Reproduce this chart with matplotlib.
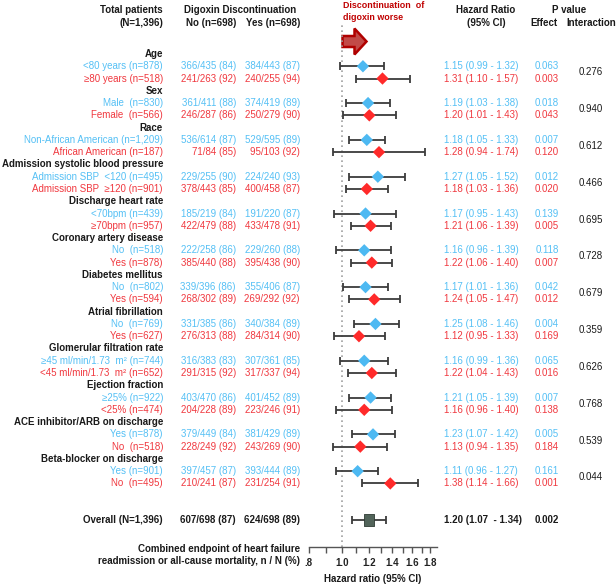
import matplotlib
matplotlib.use('Agg')
import matplotlib.pyplot as plt
from matplotlib.patches import FancyArrow
from matplotlib.path import Path
import numpy as np

plt.rcParams['font.family'] = ['Liberation Sans', 'DejaVu Sans']

# ---------------- data ----------------
groups = ["Age", "Sex", "Race", "Admission systolic blood pressure", "Discharge heart rate",
          "Coronary artery disease", "Diabetes mellitus", "Atrial fibrillation",
          "Glomerular filtration rate", "Ejection fraction",
          "ACE inhibitor/ARB on discharge", "Beta-blocker on discharge"]

sub_labels = ["<80 years (n=878)", "≥80 years (n=518)",
              "Male  (n=830)", "Female  (n=566)",
              "Non-African American (n=1,209)", "African American (n=187)",
              "Admission SBP  <120 (n=495)", "Admission SBP  ≥120 (n=901)",
              "<70bpm (n=439)", "≥70bpm (n=957)",
              "No  (n=518)", "Yes (n=878)",
              "No  (n=802)", "Yes (n=594)",
              "No  (n=769)", "Yes (n=627)",
              "≥45 ml/min/1.73  m² (n=744)", "<45 ml/min/1.73  m² (n=652)",
              "≥25% (n=922)", "<25% (n=474)",
              "Yes (n=878)", "No  (n=518)",
              "Yes (n=901)", "No  (n=495)"]

no_events = [366, 241, 361, 246, 536, 71, 229, 378, 185, 422, 222, 385,
             339, 268, 331, 276, 316, 291, 403, 204, 379, 228, 397, 210]
no_total = [435, 263, 411, 287, 614, 84, 255, 443, 219, 479, 258, 440,
            396, 302, 385, 313, 383, 315, 470, 228, 449, 249, 457, 241]
no_pct = [84, 92, 88, 86, 87, 85, 90, 85, 84, 88, 86, 88,
          86, 89, 86, 88, 83, 92, 86, 89, 84, 92, 87, 87]
yes_events = [384, 240, 374, 250, 529, 95, 224, 400, 191, 433, 229, 395,
              355, 269, 340, 284, 307, 317, 401, 223, 381, 243, 393, 231]
yes_total = [443, 255, 419, 279, 595, 103, 240, 458, 220, 478, 260, 438,
             406, 292, 384, 314, 361, 337, 452, 246, 429, 269, 444, 254]
yes_pct = [87, 94, 89, 90, 89, 92, 93, 87, 87, 91, 88, 90,
           87, 92, 89, 90, 85, 94, 89, 91, 89, 90, 89, 91]

hr = [1.15, 1.31, 1.19, 1.20, 1.18, 1.28, 1.27, 1.18, 1.17, 1.21, 1.16, 1.22,
      1.17, 1.24, 1.25, 1.12, 1.16, 1.22, 1.21, 1.16, 1.23, 1.13, 1.11, 1.38]
ci_lo = [0.99, 1.10, 1.03, 1.01, 1.05, 0.94, 1.05, 1.03, 0.95, 1.06, 0.96, 1.06,
         1.01, 1.05, 1.08, 0.95, 0.99, 1.04, 1.05, 0.96, 1.07, 0.94, 0.96, 1.14]
ci_hi = [1.32, 1.57, 1.38, 1.43, 1.33, 1.74, 1.52, 1.36, 1.43, 1.39, 1.39, 1.40,
         1.36, 1.47, 1.46, 1.33, 1.36, 1.43, 1.39, 1.40, 1.42, 1.35, 1.27, 1.66]
p_effect = ["0.063", "0.003", "0.018", "0.043", "0.007", "0.120", "0.012", "0.020",
            "0.139", "0.005", "0.118", "0.007", "0.042", "0.012", "0.004", "0.169",
            "0.065", "0.016", "0.007", "0.138", "0.005", "0.184", "0.161", "0.001"]
p_interaction = ["0.276", "0.940", "0.612", "0.466", "0.695", "0.728",
                 "0.679", "0.359", "0.626", "0.768", "0.539", "0.044"]

overall_label = "Overall (N=1,396)"
overall_no = "607/698 (87)"
overall_yes = "624/698 (89)"
overall_hr = 1.20
overall_lo = 1.07
overall_hi = 1.34
overall_p = "0.002"

x_ticks = [0.8, 1.0, 1.2, 1.4, 1.6, 1.8]
x_ticklabels = [".8", "1.0", "1.2", "1.4", "1.6", "1.8"]
x_minor = [0.9, 1.1, 1.3, 1.5, 1.7]

# ---------------- style / layout ----------------
W, H = 616, 585
BLUE_T = '#55c0f5'
RED_T = '#f0383f'
BLUE_M = '#4db9f2'
RED_M = '#ff2a2a'
DARK = '#1a1a1a'
FS = 7

y0, step = 54.0, 12.27

def row_y(r):
    return y0 + step * r

fig = plt.figure(figsize=(W / 100, H / 100), dpi=100)
fig.patch.set_facecolor('white')

tax = fig.add_axes([0, 0, 1, 1])
tax.set_xlim(0, W)
tax.set_ylim(H, 0)
tax.axis('off')
tax.patch.set_alpha(0)

# forest axes geometry (pixel)
ax_left, ax_right = 308.5, 308.5 + 150 * np.log(1.88 / 0.8)
ax_top, ax_bot = 25.0, 547.0
ax = fig.add_axes([ax_left / W, 1 - ax_bot / H, (ax_right - ax_left) / W, (ax_bot - ax_top) / H])
ax.patch.set_alpha(0)
ax.set_xscale('log')
ax.set_xlim(0.8, 1.88)
ax.set_ylim(ax_bot, ax_top)
for s in ['top', 'right', 'left']:
    ax.spines[s].set_visible(False)
ax.spines['bottom'].set_color('#555555')
ax.spines['bottom'].set_linewidth(1.0)
ax.set_yticks([])
ax.set_xticks(x_ticks)
ax.set_xticklabels(x_ticklabels, fontsize=FS, fontweight='bold', color='#222222')
ax.set_xticks(x_minor, minor=True)
ax.xaxis.set_minor_formatter(matplotlib.ticker.NullFormatter())
ax.tick_params(axis='x', which='both', direction='out', length=4, width=1, color='#555555', pad=4)
ax.axvline(1.0, color='#a0a0a0', linestyle=(0, (1, 2)), linewidth=1.2, zorder=1)

# headers
def t(x, y, s, ha='left', color=DARK, bold=False, size=FS, **kw):
    tax.text(x, y, s, ha=ha, va='center', fontsize=size, color=color,
             fontweight='bold' if bold else 'normal', **kw)

t(163, 10, "Total patients", ha='right', bold=True)
t(163, 22.7, "(N=1,396)", ha='right', bold=True)
t(240.5, 10, "Digoxin Discontinuation", ha='center', bold=True)
t(236, 22.7, "No (n=698)", ha='right', bold=True)
t(300, 22.7, "Yes (n=698)", ha='right', bold=True)
t(486, 10, "Hazard Ratio", ha='center', bold=True)
t(486, 22.7, "(95% CI)", ha='center', bold=True)
t(569, 10, "P value", ha='center', bold=True)
t(544, 22.7, "Effect", ha='center', bold=True)
t(566, 22.7, "Interaction", ha='left', bold=True)
t(343, 5, "Discontinuation  of", color='#c00000', bold=True, size=6.4)
t(343, 17.5, "digoxin worse", color='#c00000', bold=True, size=6.4)

arrow = FancyArrow(342.5, 41.5, 24, 0, width=11, head_width=26, head_length=12,
                   length_includes_head=True, facecolor='#c24a48', edgecolor='#b00000',
                   linewidth=1.8, zorder=3)
tax.add_patch(arrow)

# rows
sub_y = []
for g, name in enumerate(groups):
    r = 3 * g
    t(163, row_y(r), name, ha='right', bold=True)
    for k in range(2):
        i = 2 * g + k
        yy = row_y(r + 1 + k)
        sub_y.append(yy)
        col = BLUE_T if k == 0 else RED_T
        t(163, yy, sub_labels[i], ha='right', color=col)
        t(236, yy, f"{no_events[i]}/{no_total[i]} ({no_pct[i]})", ha='right', color=col)
        t(300, yy, f"{yes_events[i]}/{yes_total[i]} ({yes_pct[i]})", ha='right', color=col)
        t(444, yy, f"{hr[i]:.2f} ({ci_lo[i]:.2f} - {ci_hi[i]:.2f})", ha='left', color=col)
        t(559, yy, p_effect[i], ha='right', color=col)
    t(590.5, (row_y(r + 1) + row_y(r + 2)) / 2, p_interaction[g], ha='center', color=DARK)

yo = row_y(38)
t(163, yo, overall_label, ha='right', bold=True)
t(236, yo, overall_no, ha='right', bold=True)
t(300, yo, overall_yes, ha='right', bold=True)
t(444, yo, f"{overall_hr:.2f} ({overall_lo:.2f}  - {overall_hi:.2f})", ha='left', bold=True)
t(559, yo, overall_p, ha='right', bold=True)

t(300, 549, "Combined endpoint of heart failure", ha='right', bold=True)
t(300, 561.5, "readmission or all-cause mortality, n / N (%)", ha='right', bold=True)
t(372.5, 578.5, "Hazard ratio (95% CI)", ha='center', bold=True)

# forest marks
hr_a = np.array(hr)
lo_a = np.array(ci_lo)
hi_a = np.array(ci_hi)
sub_y = np.array(sub_y)
ax.errorbar(hr_a, sub_y, xerr=[hr_a - lo_a, hi_a - hr_a], fmt='none', ecolor='#3c3c3c',
            elinewidth=1.3, capsize=3, capthick=1.3, zorder=2)
cols = [BLUE_M if i % 2 == 0 else RED_M for i in range(len(hr))]
ax.scatter(hr_a, sub_y, marker='D', s=6.3 ** 2, c=cols, edgecolors='none', zorder=3)

ax.errorbar([overall_hr], [yo], xerr=[[overall_hr - overall_lo], [overall_hi - overall_hr]],
            fmt='none', ecolor='#3c3c3c', elinewidth=1.3, capsize=3, capthick=1.3, zorder=2)
rect = Path([(-0.38, -0.5), (0.38, -0.5), (0.38, 0.5), (-0.38, 0.5), (-0.38, -0.5)],
            [Path.MOVETO, Path.LINETO, Path.LINETO, Path.LINETO, Path.CLOSEPOLY])
ax.plot([overall_hr], [yo], marker=rect, markersize=9, color='#52645a',
        markeredgecolor='#2e3a33', markeredgewidth=0.6, linestyle='none', zorder=3)

fig.savefig('out.png', dpi=100, facecolor='white')
